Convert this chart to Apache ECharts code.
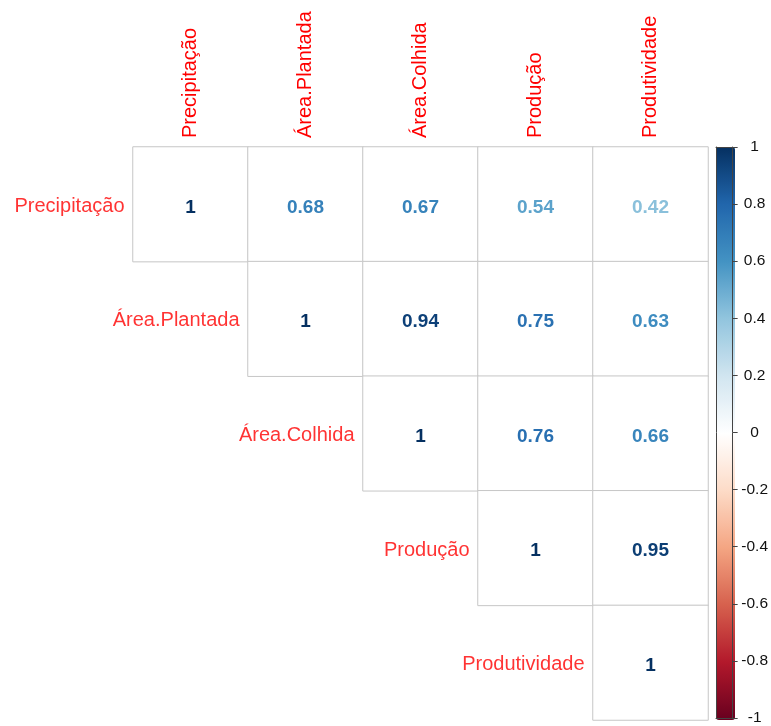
<!DOCTYPE html>
<html>
<head>
<meta charset="utf-8">
<script src="https://cdn.jsdelivr.net/npm/echarts@6/dist/echarts.min.js"></script>
<style>html,body{margin:0;padding:0;background:#fff;}#c{width:771px;height:726px;}</style>
</head>
<body>
<div id="c"></div>
<script>
const variables = ['Precipitação', 'Área.Plantada', 'Área.Colhida', 'Produção', 'Produtividade'];
// upper-triangle correlations, row by row (starting at the diagonal)
const row1 = [1, 0.68, 0.67, 0.54, 0.42];
const row2 = [1, 0.94, 0.75, 0.63];
const row3 = [1, 0.76, 0.66];
const row4 = [1, 0.95];
const row5 = [1];
const rows = [row1, row2, row3, row4, row5];
const colorbarTicks = [-1, -0.8, -0.6, -0.4, -0.2, 0, 0.2, 0.4, 0.6, 0.8, 1];
const palette = ['#67001F', '#B2182B', '#D6604D', '#F4A582', '#FDDBC7', '#FFFFFF', '#D1E5F0', '#92C5DE', '#4393C3', '#2166AC', '#053061'];

const cells = [];
rows.forEach((r, i) => {
  r.forEach((v, k) => {
    const j = i + k;
    cells.push({
      value: [j, i, v],
      label: { color: echarts.color.lerp((v + 1) / 2, palette) }
    });
  });
});
const diag = variables.map((name, i) => ({ value: [i, i], name: name }));
const FONT = 'Liberation Sans, Arial, sans-serif';

const chart = echarts.init(document.getElementById('c'), null, { renderer: 'canvas' });
chart.setOption({
  backgroundColor: '#fff',
  animation: false,
  grid: [
    { left: 133, top: 147, width: 575, height: 573 },
    { left: 716, top: 147, width: 19, height: 573 }
  ],
  xAxis: [
    {
      gridIndex: 0, type: 'category', data: variables, position: 'top',
      axisLine: { show: false }, axisTick: { show: false }, splitLine: { show: false },
      axisLabel: { rotate: -90, margin: 9, color: '#ff0000', fontSize: 20, fontFamily: FONT }
    },
    {
      gridIndex: 1, type: 'value', min: 0, max: 1, position: 'bottom', z: 5,
      axisLine: { show: true, onZero: false, lineStyle: { color: '#444', width: 1 } },
      axisTick: { show: false }, axisLabel: { show: false }, splitLine: { show: false }
    },
    {
      gridIndex: 1, type: 'value', min: 0, max: 1, position: 'top', z: 5,
      axisLine: { show: true, onZero: false, lineStyle: { color: '#444', width: 1 } },
      axisTick: { show: false }, axisLabel: { show: false }, splitLine: { show: false }
    }
  ],
  yAxis: [
    {
      gridIndex: 0, type: 'category', data: variables, inverse: true,
      axisLine: { show: false }, axisTick: { show: false }, axisLabel: { show: false }, splitLine: { show: false }
    },
    {
      gridIndex: 1, type: 'value', min: -1, max: 1, interval: 0.2, position: 'right', z: 5,
      axisLine: { show: true, onZero: false, lineStyle: { color: '#444', width: 1 } },
      axisTick: { show: true, length: 5, lineStyle: { color: '#444' } },
      splitLine: { show: false },
      axisLabel: {
        margin: 22, align: 'center', color: '#111', fontSize: 15.5,
        padding: [3, 0, 0, 0],
        fontFamily: FONT,
        customValues: colorbarTicks,
        formatter: v => String(Math.round(v * 10) / 10)
      }
    },
    {
      gridIndex: 1, type: 'value', min: -1, max: 1, position: 'left', z: 5,
      axisLine: { show: true, onZero: false, lineStyle: { color: '#444', width: 1 } },
      axisTick: { show: false }, axisLabel: { show: false }, splitLine: { show: false }
    }
  ],
  visualMap: {
    type: 'continuous', min: -1, max: 1, seriesIndex: 2,
    show: true, calculable: false, orient: 'vertical', z: 1,
    left: 716, top: 147, itemWidth: 19, itemHeight: 573, padding: 0,
    text: ['', ''], showLabel: false,
    inRange: { color: palette }
  },
  series: [
    {
      type: 'heatmap', xAxisIndex: 0, yAxisIndex: 0, data: cells,
      itemStyle: { color: '#ffffff', borderColor: '#c6c6c6', borderWidth: 1 },
      label: {
        show: true, fontSize: 19, fontWeight: 'bold', offset: [0, 3],
        fontFamily: FONT,
        formatter: p => String(p.value[2])
      },
      emphasis: { disabled: true }
    },
    {
      type: 'scatter', xAxisIndex: 0, yAxisIndex: 0, data: diag, symbolSize: 0,
      label: {
        show: true, position: 'left', distance: 66, offset: [0, 2], color: '#ff0000', fontSize: 20,
        fontFamily: FONT,
        formatter: p => p.name
      },
      emphasis: { disabled: true }
    },
    {
      type: 'scatter', xAxisIndex: 1, yAxisIndex: 1, data: [], silent: true
    }
  ]
});
</script>
</body>
</html>
